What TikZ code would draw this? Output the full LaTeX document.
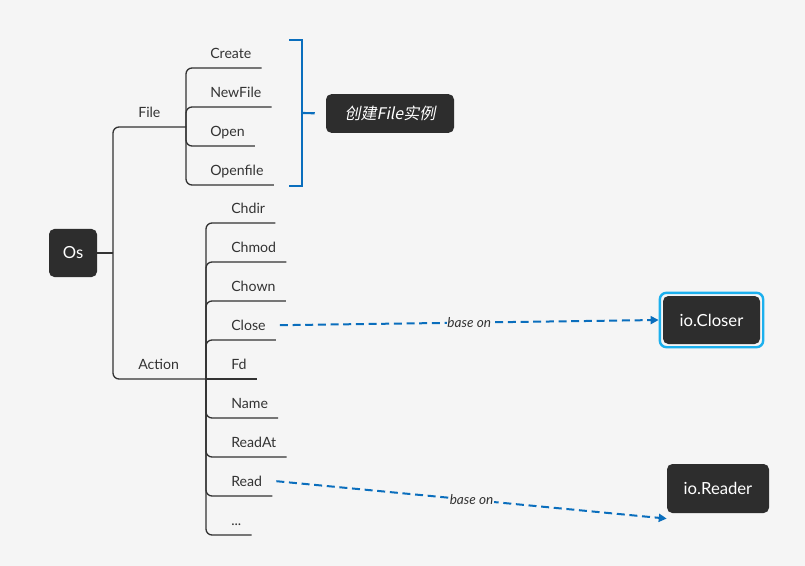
\documentclass[tikz,border=0pt]{standalone}
\usepackage{fontspec}
\setmainfont{Lato}
\newfontfamily\cjk{Noto Sans CJK SC}[FakeSlant=0.2]
\usepackage{tikz}
\usetikzlibrary{arrows.meta,positioning,fit}
\definecolor{mapbg}{HTML}{F5F5F5}
\definecolor{mapline}{HTML}{333333}
\definecolor{mapdark}{HTML}{2D2D2D}
\definecolor{mapblue}{HTML}{0A6EBD}
\definecolor{mapcyan}{HTML}{1CB0EE}

\begin{document}
\begin{tikzpicture}[
        x=0.75pt, y=-0.75pt,
        every node/.style={font=\fontsize{10.6}{13}\selectfont, text=mapline},
        branch/.style={draw=mapline, line width=1pt, rounded corners=4.5pt},
        leaf/.style={anchor=south west, inner xsep=7.5pt, inner ysep=7pt, text depth=0pt},
        darkbox/.style={fill=mapdark, rounded corners=4pt, text=white, font=\fontsize{12.5}{15}\selectfont},
        bracket/.style={draw=mapblue, line width=1.6pt},
        baseon/.style={draw=mapblue, line width=1.5pt, dash pattern=on 6pt off 3.5pt, -{Triangle[length=6pt,width=6pt]}},
        baselabel/.style={font=\itshape\fontsize{10.2}{12}\selectfont, fill=mapbg, inner sep=0.6pt}
    ]
        % canvas
        \fill[mapbg] (0,0) rectangle (805,566);

        % root
        \node[darkbox, minimum width=36pt, minimum height=36pt] (os) at (73,253) {Os};
        \coordinate (osj) at (113,253);
        \coordinate (filej) at (186,127);
        \coordinate (actionj) at (206,379);
        \node[leaf] (file) at (128,127) {File};
        \node[leaf] (action) at (128,379) {Action};
        \draw[branch] (os) -- (osj);
        \draw[branch] (osj) |- (filej);
        \draw[branch] (osj) |- (actionj);

        % File children
        \node[leaf] (create) at (200,68) {Create};
        \node[leaf] (newfile) at (200,107) {NewFile};
        \node[leaf] (open) at (200,146) {Open};
        \node[leaf] (openfile) at (200,185) {Openfile};
        \draw[branch] (filej) |- (create.south east);
        \draw[branch] (filej) |- (newfile.south east);
        \draw[branch] (filej) |- (open.south east);
        \draw[branch] (filej) |- (openfile.south east);

        % Action children
        \node[leaf] (chdir) at (221,223) {Chdir};
        \node[leaf] (chmod) at (221,262) {Chmod};
        \node[leaf] (chown) at (221,301) {Chown};
        \node[leaf] (close) at (221,340) {Close};
        \node[leaf] (fd) at (221,379) {Fd};
        \node[leaf] (name) at (221,418) {Name};
        \node[leaf] (readat) at (221,457) {ReadAt};
        \node[leaf] (read) at (221,496) {Read};
        \node[leaf] (more) at (221,535) {...};
        \draw[branch] (actionj) |- (chdir.south east);
        \draw[branch] (actionj) |- (chmod.south east);
        \draw[branch] (actionj) |- (chown.south east);
        \draw[branch] (actionj) |- (close.south east);
        \draw[branch] (actionj) -- (fd.south east);
        \draw[branch] (actionj) |- (name.south east);
        \draw[branch] (actionj) |- (readat.south east);
        \draw[branch] (actionj) |- (read.south east);
        \draw[branch] (actionj) |- (more.south east);

        % bracket over the File group
        \coordinate (brtop) at (289,40);
        \coordinate (brbot) at (289,186);
        \coordinate (brmid) at (302,113);
        \draw[bracket] (brtop) -- ++(13,0) |- (brbot);
        \node[darkbox, minimum width=96pt, minimum height=29pt, font=\cjk\fontsize{12}{14}\selectfont] (fileinst) at (390,113.5) {创建File实例};
        \draw[bracket, shorten >=8.25pt] (brmid) -- (fileinst.west);

        % io interfaces
        \node[darkbox, minimum width=72.75pt, minimum height=36pt] (closer) at (711.5,320) {io.Closer};
        \node[draw=mapcyan, line width=1.8pt, rounded corners=5pt, fit=(closer), inner sep=2.2pt] (closerring) {};
        \node[darkbox, minimum width=76.5pt, minimum height=36.75pt] (reader) at (718,488.5) {io.Reader};

        \draw[baseon] ([xshift=3pt]close.east) -- node[baselabel] {base on} (closerring.west);
        \draw[baseon] ([xshift=3pt]read.east) -- node[baselabel] {base on} ([yshift=-4pt]reader.south west);
    \end{tikzpicture}
\end{document}
